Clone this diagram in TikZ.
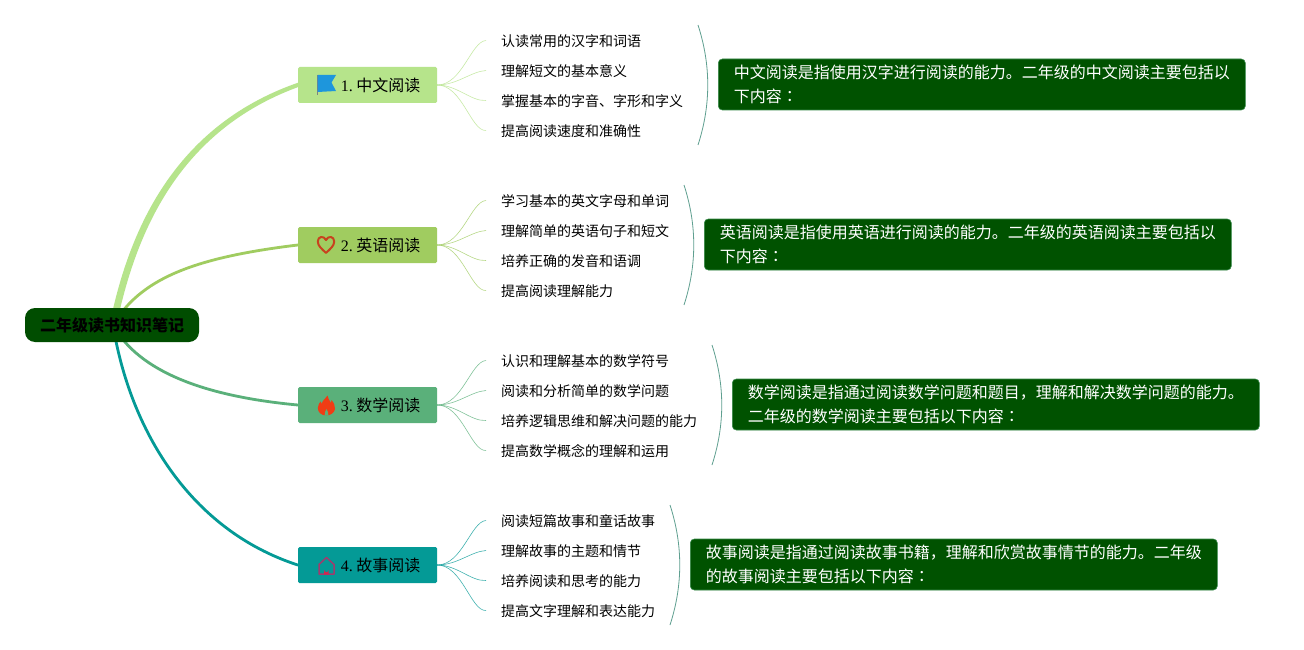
\documentclass[tikz,border=0pt]{standalone}
\usepackage{fontspec}
\usetikzlibrary{calc}
\setmainfont{Liberation Serif}
\newfontfamily\cjk{Noto Sans CJK SC}
\newfontfamily\cjktc{Noto Sans CJK TC}
\definecolor{cOne}{HTML}{B6E48B}
\definecolor{cTwo}{HTML}{A0CC60}
\definecolor{cThree}{HTML}{5AB07A}
\definecolor{cFour}{HTML}{049A96}
\definecolor{darkbox}{HTML}{005200}
\definecolor{rootbox}{HTML}{004D00}
\definecolor{bracecol}{HTML}{5F9F90}
\definecolor{iconflag}{HTML}{1E96DC}
\definecolor{iconheart}{HTML}{C8421E}
\definecolor{iconflame}{HTML}{F03C14}
\definecolor{iconhouse}{HTML}{A03C6E}
\definecolor{icondoor}{HTML}{D02850}
\tikzset{
  x=1pt,y=-1pt,
  rootnode/.style={fill=rootbox,rounded corners=10pt,minimum width=174pt,minimum height=34pt,inner sep=0pt,text=black,font=\cjk\bfseries\fontsize{16}{20}\selectfont},
  topic/.style={rounded corners=1.5pt,minimum width=139pt,minimum height=36pt,inner sep=0pt,text=black,font=\fontsize{16}{20}\selectfont},
  leaf/.style={anchor=west,inner sep=0pt,text=black,font=\cjk\fontsize{14}{18}\selectfont},
  note/.style={anchor=west,fill=darkbox,draw=cThree!60!darkbox,line width=.6pt,rounded corners=4pt,minimum width=527pt,minimum height=51pt,text width=496pt,inner xsep=15.5pt,inner ysep=0pt,align=left,text=white,font=\cjk\fontsize{16}{24}\selectfont},
  branch/.style={line width=#1,line cap=round},
  twig/.style={line width=.6pt,opacity=.75},
  bracket/.style={draw=bracecol,line width=.8pt},
}
\newcommand{\twigs}[6]{% topic, colour, leaf a b c d
  \draw[twig,#2] (#1.east) .. controls ($(#1.east)+(25,0)$) and ($(#3.west)+(-30,0)$) .. ($(#3.west)+(-15,-1)$);
  \draw[twig,#2] (#1.east) .. controls ($(#1.east)+(20,0)$) and ($(#4.west)+(-30,0)$) .. ($(#4.west)+(-15,-1)$);
  \draw[twig,#2] (#1.east) .. controls ($(#1.east)+(20,0)$) and ($(#5.west)+(-30,0)$) .. ($(#5.west)+(-15,-1)$);
  \draw[twig,#2] (#1.east) .. controls ($(#1.east)+(25,0)$) and ($(#6.west)+(-30,0)$) .. ($(#6.west)+(-15,-1)$);
}
\newcommand{\topiclabel}[2]{\hspace*{26pt}\raisebox{-2pt}{#1.\hspace{3.5pt}{\cjk #2}}}
\newcommand{\cln}{{\cjktc ：}}
\newcommand{\lowline}[1]{\raisebox{-1.5pt}{#1}}
\begin{document}
\begin{tikzpicture}
\useasboundingbox (0,0) rectangle (1304,650);
\fill[white] (0,0) rectangle (1304,650);
\coordinate (hub) at (113,325);
\node[topic,fill=cOne] (t1) at (367.5,85) {\topiclabel{1}{中文阅读}};
\node[topic,fill=cTwo] (t2) at (367.5,245) {\topiclabel{2}{英语阅读}};
\node[topic,fill=cThree] (t3) at (367.5,405) {\topiclabel{3}{数学阅读}};
\node[topic,fill=cFour] (t4) at (367.5,565) {\topiclabel{4}{故事阅读}};
% branches
\fill[cOne] ($(hub)+(-3.5,0)$) .. controls (127,240) and (168,128) .. ($(t1.west)+(0,-2.2)$) -- ($(t1.west)+(0,2.2)$) .. controls (173,133) and (134,242) .. ($(hub)+(3.5,0)$) -- cycle;
\draw[branch=2.8pt,cTwo] (hub) .. controls (140,280) and (190,258) .. (t2.west);
\draw[branch=2.8pt,cThree] (hub) .. controls (135,365) and (190,395) .. (t3.west);
\draw[branch=2.8pt,cFour] (hub) .. controls (130,430) and (190,530) .. (t4.west);
\node[rootnode] (root) at (112,325) {\raisebox{-2pt}{二年级读书知识笔记}};
% icons
\fill[black!50] (317,75) rectangle (318,95);
\fill[iconflag] (317.5,75) -- (336,75) -- (331.5,82.5) -- (336,91) -- (317.5,92) -- cycle;
\draw[line width=2pt,iconheart,line join=round] (326,253) .. controls (322,249) and (317.8,246) .. (317.8,241.5) .. controls (317.8,236) and (324,235.5) .. (326,240) .. controls (328,235.5) and (334.2,236) .. (334.2,241.5) .. controls (334.2,246) and (330,249) .. (326,253) -- cycle;
\fill[iconflame] (327.5,395.5) .. controls (328,399) and (329.5,400) .. (331,403) .. controls (331.6,401.5) and (331.6,401) .. (331.5,400) .. controls (334,403) and (335.2,406) .. (335,409) .. controls (334.5,413) and (330,415.5) .. (326.5,415.5) .. controls (321,415.5) and (317.8,412) .. (317.8,408) .. controls (317.8,405) and (319.5,403) .. (320.5,401.5) .. controls (320.8,403) and (321,403.5) .. (321.8,404) .. controls (322,401) and (325,399) .. (327.5,395.5) -- cycle;
\fill[cThree] (326.5,409) .. controls (327.3,411) and (328.8,412.5) .. (328.4,415.6) -- (324.6,415.6) .. controls (324.2,412.5) and (325.7,411) .. (326.5,409) -- cycle;
\draw[iconhouse,line width=1.5pt,line join=round] (319,564.5) -- (326.5,557.5) -- (334,564.5) -- (334,574) -- (319,574) -- cycle;
\fill[icondoor] (324.2,574.5) -- (324.2,570) arc[start angle=180,end angle=0,radius=2.2] -- (328.6,574.5) -- cycle;
% leaves
\node[leaf] (a1) at (501,41.5) {认读常用的汉字和词语};
\node[leaf] (a2) at (501,71.5) {理解短文的基本意义};
\node[leaf] (a3) at (501,101.5) {掌握基本的字音、字形和字义};
\node[leaf] (a4) at (501,131.5) {提高阅读速度和准确性};
\node[leaf] (b1) at (501,201.5) {学习基本的英文字母和单词};
\node[leaf] (b2) at (501,231.5) {理解简单的英语句子和短文};
\node[leaf] (b3) at (501,261.5) {培养正确的发音和语调};
\node[leaf] (b4) at (501,291.5) {提高阅读理解能力};
\node[leaf] (c1) at (501,361.5) {认识和理解基本的数学符号};
\node[leaf] (c2) at (501,391.5) {阅读和分析简单的数学问题};
\node[leaf] (c3) at (501,421.5) {培养逻辑思维和解决问题的能力};
\node[leaf] (c4) at (501,451.5) {提高数学概念的理解和运用};
\node[leaf] (d1) at (501,521.5) {阅读短篇故事和童话故事};
\node[leaf] (d2) at (501,551.5) {理解故事的主题和情节};
\node[leaf] (d3) at (501,581.5) {培养阅读和思考的能力};
\node[leaf] (d4) at (501,611.5) {提高文字理解和表达能力};
\twigs{t1}{cOne}{a1}{a2}{a3}{a4}
\twigs{t2}{cTwo}{b1}{b2}{b3}{b4}
\twigs{t3}{cThree}{c1}{c2}{c3}{c4}
\twigs{t4}{cFour}{d1}{d2}{d3}{d4}
% notes
\node[note] (n1) at (718,84.5) {\lowline{中文阅读是指使用汉字进行阅读的能力。二年级的中文阅读主要包括以}\\\lowline{下内容\cln}};
\node[note] (n2) at (704,244.5) {\lowline{英语阅读是指使用英语进行阅读的能力。二年级的英语阅读主要包括以}\\\lowline{下内容\cln}};
\node[note] (n3) at (732,404.5) {\lowline{数学阅读是指通过阅读数学问题和题目，理解和解决数学问题的能力。}\\\lowline{二年级的数学阅读主要包括以下内容\cln}};
\node[note] (n4) at (690,564.5) {\lowline{故事阅读是指通过阅读故事书籍，理解和欣赏故事情节的能力。二年级}\\\lowline{的故事阅读主要包括以下内容\cln}};
% brackets
\coordinate (k1a) at (698,25); \coordinate (k1b) at (698,145);
\coordinate (k2a) at (684,185); \coordinate (k2b) at (684,305);
\coordinate (k3a) at (712,345); \coordinate (k3b) at (712,465);
\coordinate (k4a) at (670,505); \coordinate (k4b) at (670,625);
\foreach \k in {1,2,3,4}{
  \draw[bracket] (k\k a) .. controls ($(k\k a)+(13,40)$) and ($(k\k b)+(13,-40)$) .. (k\k b);
}
\end{tikzpicture}
\end{document}
